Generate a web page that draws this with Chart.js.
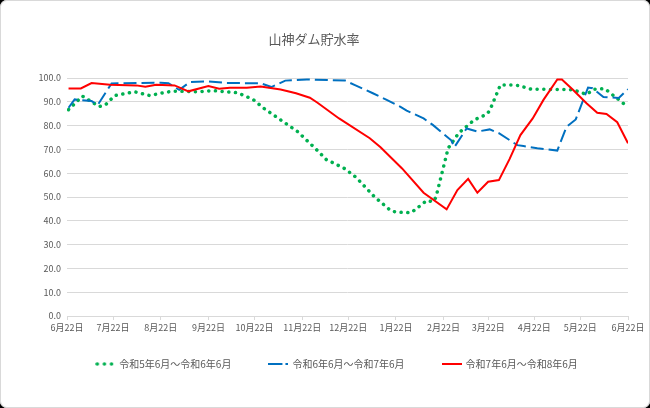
<!DOCTYPE html>
<html>
<head>
<meta charset="utf-8">
<script src="https://cdn.jsdelivr.net/npm/chart.js@4"></script>
<style>
  html, body { margin: 0; padding: 0; background: #000; }
  #wrap { position: relative; width: 650px; height: 408px; background: #fff; border-radius: 7px; overflow: hidden; box-shadow: inset 0 0 0 1px #d9d9d9; }
  canvas { position: absolute; left: 0; top: 0; }
</style>
</head>
<body>
<div id="wrap"><canvas id="c" width="650" height="408"></canvas></div>
<script>
// x axis: days counted from 6月22日
const tickDays = [0, 30, 61, 92, 122, 153, 183, 214, 245, 274, 304, 334, 365];
const tickLabels = ["6月22日","7月22日","8月22日","9月22日","10月22日","11月22日","12月22日","1月22日","2月22日","3月22日","4月22日","5月22日","6月22日"];

const seriesNames = ["令和5年6月～令和6年6月", "令和6年6月～令和7年6月", "令和7年6月～令和8年6月"];

const r5Days = [1, 10, 21, 25, 31, 44, 54, 61, 69, 84, 95, 111, 121, 128, 139, 150, 163, 169, 174, 181, 188, 200, 211, 215, 224, 234, 238, 240, 248, 255, 265, 273, 275, 282, 290, 294, 302, 329, 338, 343, 350, 364];
const r5Vals = [86.7, 92.4, 88.0, 88.7, 92.6, 94.2, 92.6, 93.6, 94.5, 94.2, 94.7, 93.8, 91.0, 87.3, 82.4, 77.5, 69.5, 65.5, 64.1, 61.8, 58.3, 50.1, 44.1, 43.6, 43.4, 48.5, 48.0, 49.8, 70.5, 77.0, 82.4, 84.7, 86.3, 97.1, 97.1, 96.8, 95.3, 95.1, 93.1, 95.3, 95.5, 88.3];

const r6Days = [1, 5, 16, 20, 29, 61, 66, 73, 80, 92, 104, 126, 133, 142, 156, 181, 187, 199, 208, 217, 221, 232, 238, 250, 252, 260, 267, 275, 281, 293, 297, 306, 319, 325, 331, 339, 342, 349, 359, 365];
const r6Vals = [87.5, 91.0, 90.3, 88.7, 97.7, 98.0, 97.8, 95.0, 98.3, 98.6, 97.9, 97.8, 96.2, 98.9, 99.4, 98.9, 97.1, 93.6, 90.8, 87.9, 86.3, 83.0, 80.3, 73.8, 70.9, 78.8, 77.5, 78.4, 76.8, 71.8, 71.4, 70.5, 69.5, 79.5, 82.6, 96.0, 95.7, 92.0, 91.6, 95.3];

const r7Days = [1, 9, 16, 28, 45, 51, 58, 70, 79, 92, 99, 106, 117, 126, 139, 149, 158, 163, 177, 197, 204, 218, 232, 247, 254, 261, 267, 274, 281, 288, 295, 303, 310, 319, 322, 329, 338, 345, 351, 358, 365];
const r7Vals = [95.6, 95.6, 97.9, 97.2, 96.9, 96.3, 97.2, 96.9, 94.4, 96.6, 95.5, 95.9, 95.9, 96.4, 95.2, 93.6, 91.7, 89.6, 83.0, 74.7, 70.9, 62.0, 51.8, 44.8, 52.9, 57.6, 51.8, 56.4, 57.1, 66.0, 76.0, 83.0, 90.8, 99.4, 99.4, 95.2, 89.4, 85.4, 84.9, 81.4, 72.6];

const yTicks = [0, 10, 20, 30, 40, 50, 60, 70, 80, 90, 100];

const toPts = (d, v) => d.map((x, i) => ({x: x, y: v[i]}));

// small legend swatches drawn with the same stroke styles as the lines
function swatch(color, width, dash, cap) {
  const cv = document.createElement('canvas');
  cv.width = 20; cv.height = 6;
  const g = cv.getContext('2d');
  g.strokeStyle = color; g.lineWidth = width; g.lineCap = cap; g.setLineDash(dash);
  g.beginPath(); g.moveTo(cap === 'round' ? 2 : 0, 3); g.lineTo(20, 3); g.stroke();
  return cv;
}

Chart.defaults.font.family = "'Noto Sans CJK JP', 'Noto Sans', sans-serif";
Chart.defaults.color = '#595959';

const legendShift = {
  id: 'legendShift',
  afterLayout(chart) {
    const lg = chart.legend;
    const dx = 23, dy = -28;
    lg.left += dx; lg.right += dx;
    lg.top += dy; lg.bottom += dy;
  }
};

new Chart(document.getElementById('c'), {
  type: 'line',
  data: {
    datasets: [
      { label: seriesNames[0], data: toPts(r5Days, r5Vals), borderColor: '#00B050', backgroundColor: '#00B050',
        borderWidth: 3.5, borderDash: [0.1, 6.6], borderCapStyle: 'round', pointRadius: 0, tension: 0, order: 3,
        pointStyle: swatch('#00B050', 3.5, [0.1, 7], 'round') },
      { label: seriesNames[1], data: toPts(r6Days, r6Vals), borderColor: '#0070C0', backgroundColor: '#0070C0',
        borderWidth: 2, borderDash: [13, 5], borderCapStyle: 'butt', pointRadius: 0, tension: 0, order: 2,
        pointStyle: swatch('#0070C0', 2, [14, 3], 'butt') },
      { label: seriesNames[2], data: toPts(r7Days, r7Vals), borderColor: '#FF0000', backgroundColor: '#FF0000',
        borderWidth: 2, pointRadius: 0, tension: 0, order: 1,
        pointStyle: swatch('#FF0000', 2, [], 'butt') }
    ]
  },
  options: {
    responsive: false,
    animation: false,
    devicePixelRatio: 1,
    layout: { padding: { left: 0, right: 22, top: 0, bottom: 1 } },
    plugins: {
      title: { display: true, text: '山神ダム貯水率', color: '#595959',
        font: { size: 13, weight: 'normal' }, padding: { top: 31, bottom: 31.4 } },
      legend: { position: 'bottom',
        labels: { usePointStyle: true, pointStyleWidth: 18, boxHeight: 10,
          sort: (a, b) => a.datasetIndex - b.datasetIndex,
          padding: 38, color: '#595959', font: { size: 10 } } },
      tooltip: { enabled: false }
    },
    scales: {
      x: {
        type: 'linear', min: 0, max: 365,
        afterBuildTicks: (s) => { s.ticks = tickDays.map(v => ({value: v})); },
        afterFit: (s) => { s.height = 33; },
        ticks: { autoSkip: false, maxRotation: 0, padding: 2, font: { size: 9 }, color: '#595959',
          callback: (v, i) => tickLabels[i] },
        grid: { drawOnChartArea: false, drawTicks: true, tickLength: 4, color: '#d9d9d9' },
        border: { display: true, color: '#d9d9d9' }
      },
      y: {
        min: 0, max: 100,
        afterBuildTicks: (s) => { s.ticks = yTicks.map(v => ({value: v})); },
        afterFit: (s) => { s.width = 67; },
        ticks: { padding: 6, font: { size: 9 }, color: '#595959', callback: (v) => Number(v).toFixed(1) },
        grid: { color: '#d9d9d9', drawTicks: false },
        border: { display: false }
      }
    }
  },
  plugins: [legendShift]
});
</script>
</body>
</html>
